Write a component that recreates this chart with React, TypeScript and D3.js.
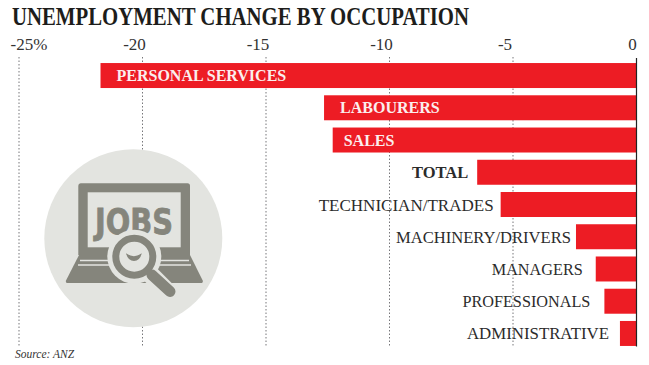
import React from "react";
import * as d3 from "d3";

const categories = ["PERSONAL SERVICES", "LABOURERS", "SALES", "TOTAL", "TECHNICIAN/TRADES", "MACHINERY/DRIVERS", "MANAGERS", "PROFESSIONALS", "ADMINISTRATIVE"];
const values = [-21.7, -12.65, -12.3, -6.45, -5.5, -2.45, -1.65, -1.3, -0.67];
const ticks = [-25, -20, -15, -10, -5, 0];
const insideLabels = ["PERSONAL SERVICES", "LABOURERS", "SALES"];
const boldLabels = ["TOTAL"];

const W = 649, H = 365;
const RED = "#ed1c24";
const SERIF = "'Liberation Serif', serif";
const ICON = "#85857c";
const DISC = "#e3e4e0";
const labelGaps: Record<string, number> = { "PERSONAL SERVICES": 16, LABOURERS: 16, SALES: 11, TOTAL: 9, "TECHNICIAN/TRADES": 7, "MACHINERY/DRIVERS": 5, MANAGERS: 13, PROFESSIONALS: 14, ADMINISTRATIVE: 11 };
const labelWidths: Record<string, number> = { "TECHNICIAN/TRADES": 175, "MACHINERY/DRIVERS": 175, MANAGERS: 91, PROFESSIONALS: 128, ADMINISTRATIVE: 142 };

export default function App() {
  const x = d3.scaleLinear().domain([-25, 0]).range([19, 636.5]);
  const y = d3.scaleBand().domain(categories).range([59.5, 349.5]).paddingInner(0.225).paddingOuter(0.11);

  return (
    <svg width={W} height={H} style={{ position: "absolute", left: 0, top: 0, background: "#fff" }} fontFamily={SERIF}>
      <text x={12} y={25} fontSize={24.5} fontWeight={700} fill="#1d1d1b" textLength={457} lengthAdjust="spacingAndGlyphs">UNEMPLOYMENT CHANGE BY OCCUPATION</text>

      {ticks.map(t => (
        <g key={t}>
          {t !== 0 && <line x1={x(t)} x2={x(t)} y1={57} y2={347} stroke="#77777a" strokeWidth={1} strokeDasharray="1.5 2" />}
          <text x={t === -25 ? x(t) + 10 : x(t) - (t === 0 ? 4 : 8)} y={50} fontSize={17} textAnchor="middle" fill="#333">{t === -25 ? "-25%" : String(t)}</text>
        </g>
      ))}

      <g>
        <circle cx={133.3} cy={238.3} r={89} fill={DISC} />
        <path d="M81 183.3H187.5a2.5 2.5 0 0 1 2.5 2.5V255H78.3V185.8a2.5 2.5 0 0 1 2.7-2.5Z" fill={ICON} />
        <rect x={87.7} y={192.3} width={93} height={55} fill={DISC} />
        <path d="M79 255H190L202.7 280.5a1.8 1.8 0 0 1-1.6 2.6H67.6a1.8 1.8 0 0 1-1.6-2.6Z" fill={ICON} />
        <path d="M80 260.5H189M78 265H191" stroke={DISC} strokeWidth={1.4} fill="none" />
        <text x={95} y={234} fontFamily="'DejaVu Sans', sans-serif" fontWeight={700} fontSize={35} fill={ICON} stroke={ICON} strokeWidth={0.8} textLength={78} lengthAdjust="spacingAndGlyphs">JOBS</text>
        <circle cx={134.3} cy={256.7} r={27} fill={DISC} />
        <path d="M148 272L172 296" stroke={DISC} strokeWidth={18} strokeLinecap="butt" />
        <circle cx={134.3} cy={256.7} r={18.5} fill={DISC} stroke={ICON} strokeWidth={7} />
        <path d="M152 275L170 291.5" stroke={ICON} strokeWidth={11} strokeLinecap="round" />
        <path d="M126 253.3Q134 259 141.7 253.3Q140 261 134 261Q128 261 126 253.3Z" fill={ICON} />
      </g>

      {categories.map((c, i) => {
        const bx = x(values[i]);
        const by = y(c)!;
        const cy = by + y.bandwidth() / 2;
        const inside = insideLabels.includes(c);
        return (
          <g key={c}>
            <rect x={bx} y={by} width={x(0) - bx} height={y.bandwidth()} fill={RED} />
            {inside ? (
              <text x={bx + labelGaps[c]} y={cy + 5.5} fontSize={16} fontWeight={700} fill="#fbeeee">{c}</text>
            ) : (
              <text x={bx - labelGaps[c]} y={cy + 6} fontSize={boldLabels.includes(c) ? 16.5 : 17} textAnchor="end" fontWeight={boldLabels.includes(c) ? 700 : 400} fill="#2b2b2b" textLength={labelWidths[c]} lengthAdjust="spacingAndGlyphs">{c}</text>
            )}
          </g>
        );
      })}

      <line x1={x(0)} x2={x(0)} y1={58} y2={346.5} stroke="#222" strokeWidth={1.2} />
      <text x={15} y={358} fontSize={11.5} fontStyle="italic" fill="#333">Source: ANZ</text>
    </svg>
  );
}
